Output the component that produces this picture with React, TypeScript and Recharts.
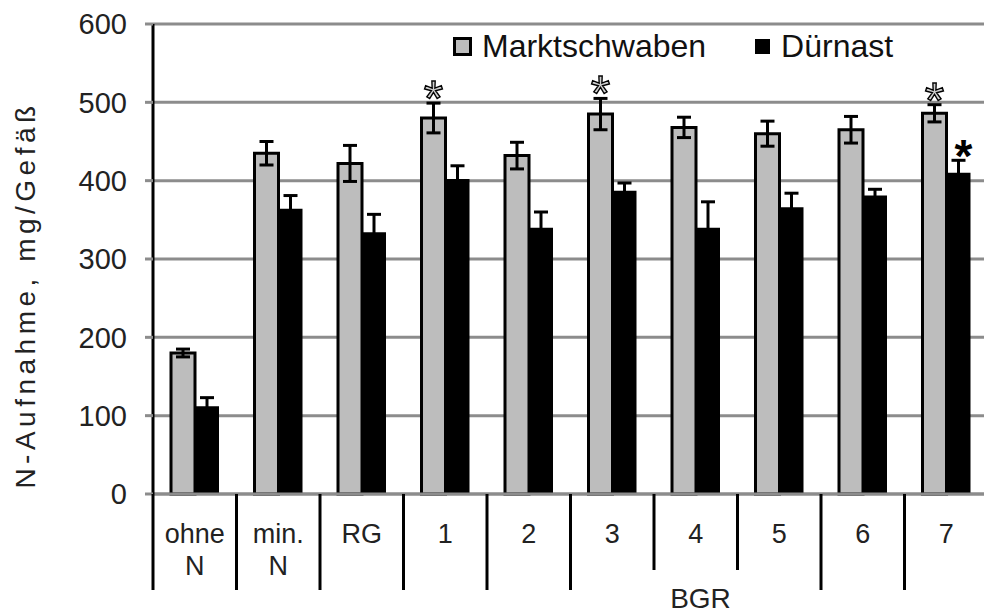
import React from "react";
import {
  Bar,
  BarChart,
  CartesianGrid,
  ErrorBar,
  LabelList,
  Legend,
  XAxis,
  YAxis
} from "recharts";

const categories = ["ohne N", "min. N", "RG", "1", "2", "3", "4", "5", "6", "7"];
const markt = [180, 435, 422, 480, 432, 485, 468, 460, 465, 486];
const marktErr = [5, 15, 23, 19, 17, 20, 13, 16, 17, 11];
const duernast = [112, 364, 334, 402, 340, 387, 340, 366, 381, 410];
const duernastErr = [11, 17, 23, 17, 20, 10, 33, 18, 8, 16];
const marktSig = [0, 0, 0, 1, 0, 1, 0, 0, 0, 1];
const duernastSig = [0, 0, 0, 0, 0, 0, 0, 0, 0, 1];
const yTicks = [0, 100, 200, 300, 400, 500, 600];

const data = categories.map((name, i) => ({
  name,
  markt: markt[i],
  marktErr: marktErr[i],
  duernast: duernast[i],
  duernastErr: duernastErr[i]
}));

const FONT = "'Liberation Sans', Arial, sans-serif";
const GRID = "#8c8c8c";
const MARKT_FILL = "#bdbdbd";
const BAND = 83.5;

// lines under the axis that fence each category; two are shorter to make room for "BGR"
const shortDividers = [6, 7];

const CategoryTick = (props: any) => {
  const { x, y, payload, index } = props;
  const lines = String(payload.value).split(" ");
  const left = x - BAND / 2;
  const len = shortDividers.includes(index) ? 76 : 96;
  return (
    <g>
      <line x1={left} y1={y} x2={left} y2={y + len} stroke="#000" strokeWidth={3} />
      {lines.map((t, i) => (
        <text
          key={i}
          x={x}
          y={y + 49 + i * 32}
          textAnchor="middle"
          fontSize={27}
          fontFamily={FONT}
          fill="#222"
        >
          {t}
        </text>
      ))}
    </g>
  );
};

const YTitle = (props: any) => {
  const { viewBox } = props;
  const cx = viewBox.x + 25;
  const cy = viewBox.y + viewBox.height / 2 + 36;
  return (
    <text
      x={cx}
      y={cy}
      transform={`rotate(-90 ${cx} ${cy})`}
      textAnchor="middle"
      dominantBaseline="central"
      fontSize={28}
      letterSpacing={4.5}
      fontFamily={FONT}
      fill="#222"
    >
      N-Aufnahme, mg/Gefäß
    </text>
  );
};

const starLabel = (errs: number[], sig: number[], bold: boolean) => (props: any) => {
  const { x, y, width, height, value, index } = props;
  if (!sig[index]) return null;
  const errPx = value ? (errs[index] * height) / value : 0;
  const top = y - errPx;
  return (
    <text
      x={x + width / 2 + (bold ? 5 : 0)}
      y={top + (bold ? 12 : 13)}
      textAnchor="middle"
      fontSize={bold ? 46 : 50}
      fontWeight={bold ? "bold" : "normal"}
      fontFamily={FONT}
      fill={bold ? "#000" : "#d0d0d0"}
      stroke="#000"
      strokeWidth={bold ? 0 : 1.4}
    >
      *
    </text>
  );
};

const renderLegend = () => (
  <div
    style={{
      display: "flex",
      alignItems: "center",
      fontFamily: FONT,
      fontSize: 32,
      lineHeight: "36px",
      color: "#111",
      whiteSpace: "nowrap"
    }}
  >
    <span style={{ width: 13, height: 13, border: "3px solid #000", background: MARKT_FILL, marginRight: 10 }} />
    <span>Marktschwaben</span>
    <span style={{ width: 15, height: 15, background: "#000", marginLeft: 49, marginRight: 11 }} />
    <span>Dürnast</span>
  </div>
);

export default function App() {
  return (
    <div style={{ position: "absolute", left: 0, top: 0, width: 984, height: 616, overflow: "hidden", background: "#fff" }}>
      <BarChart
        width={1000}
        height={616}
        data={data}
        margin={{ top: 24, right: 12, left: 0, bottom: 0 }}
        barGap={0}
      >
        <CartesianGrid vertical={false} stroke={GRID} strokeWidth={3} />
        <XAxis
          dataKey="name"
          height={122}
          interval={0}
          axisLine={{ stroke: GRID, strokeWidth: 3 }}
          tickLine={false}
          tickSize={0}
          tickMargin={0}
          tick={<CategoryTick />}
          label={{
            value: "BGR",
            position: "insideBottom",
            offset: 8,
            dx: 130,
            fontSize: 28,
            fontFamily: FONT,
            fill: "#222"
          }}
        />
        <YAxis
          domain={[0, 600]}
          ticks={yTicks}
          interval={0}
          width={153}
          axisLine={{ stroke: "#000", strokeWidth: 3 }}
          tickLine={{ stroke: GRID, strokeWidth: 3 }}
          tickSize={8}
          tickMargin={18}
          tick={{ fontSize: 29, fill: "#222", fontFamily: FONT }}
          label={<YTitle />}
        />
        <Legend
          verticalAlign="middle"
          align="center"
          content={renderLegend}
          wrapperStyle={{ top: 28, left: 453, width: "auto" }}
        />
        <Bar
          dataKey="markt"
          name="Marktschwaben"
          barSize={24}
          fill={MARKT_FILL}
          stroke="#000"
          strokeWidth={3}
          isAnimationActive={false}
        >
          <ErrorBar dataKey="marktErr" width={7} stroke="#000" strokeWidth={3} />
          <LabelList dataKey="markt" content={starLabel(marktErr, marktSig, false)} />
        </Bar>
        <Bar
          dataKey="duernast"
          name="Dürnast"
          barSize={24}
          fill="#000"
          isAnimationActive={false}
        >
          <ErrorBar dataKey="duernastErr" width={7} stroke="#000" strokeWidth={3} />
          <LabelList dataKey="duernast" content={starLabel(duernastErr, duernastSig, true)} />
        </Bar>
      </BarChart>
    </div>
  );
}
